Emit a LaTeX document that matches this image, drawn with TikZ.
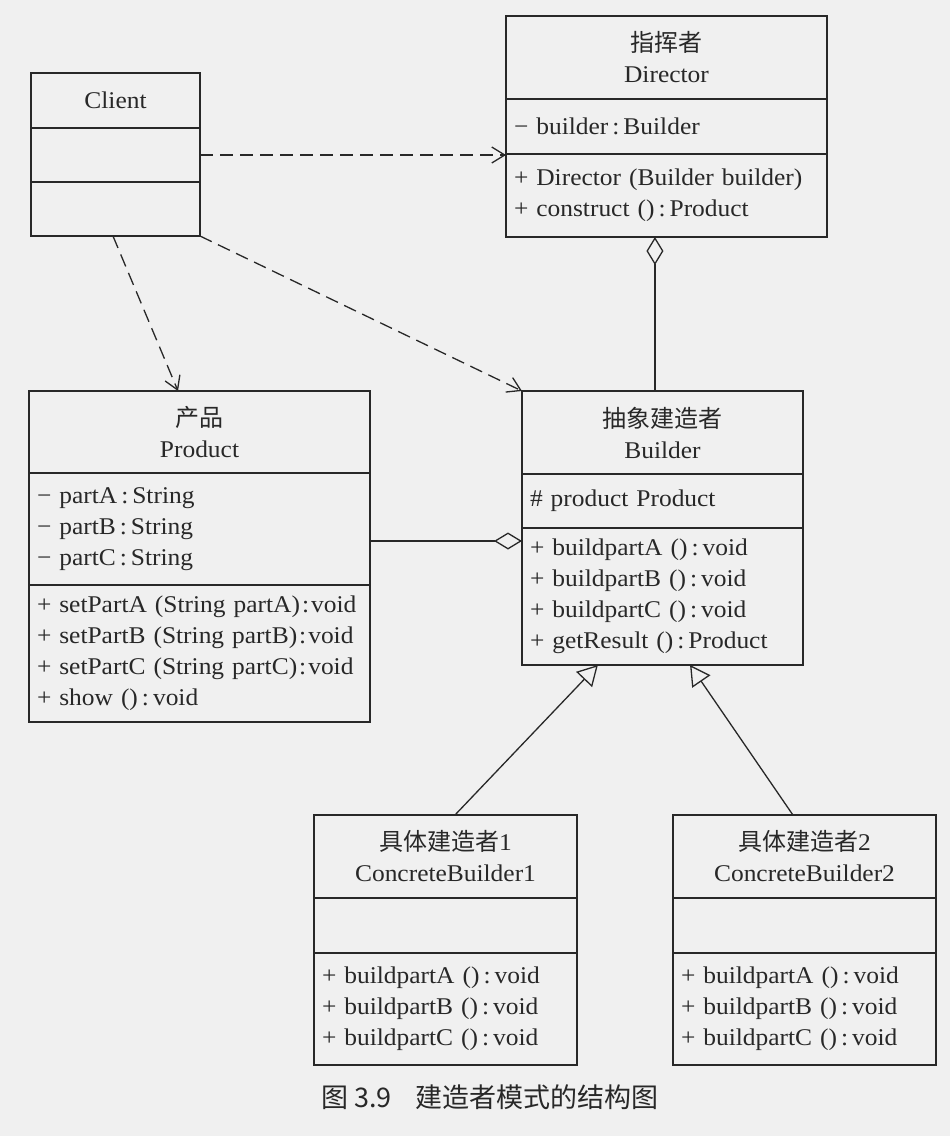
\documentclass[tikz,border=0pt]{standalone}
\usepackage{fontspec}
\setmainfont{Liberation Serif}[FakeStretch=1.06]
\newfontfamily\cjk{Noto Sans CJK SC}
\usetikzlibrary{positioning,calc,arrows.meta}

\definecolor{inkc}{RGB}{40,40,40}
\definecolor{paperc}{RGB}{240,240,240}

\tikzset{
  clsbox/.style={draw=inkc, line width=1.8pt, inner xsep=8pt, inner ysep=0pt, outer sep=0pt, text width=#1},
  clstitle/.style={clsbox=#1, align=center},
  clspart/.style={clsbox=#1, align=left},
  depline/.style={draw=inkc, line width=1.3pt, dash pattern=on 13pt off 7pt, -{Straight Barb[length=13pt,width=16pt]}},
  aggline/.style={draw=inkc, line width=1.3pt, {Diamond[open,length=28pt,width=17pt]}-},
  genline/.style={draw=inkc, line width=1.3pt, -{Triangle[open,length=20pt,width=22pt]}},
}

\begin{document}
\begin{tikzpicture}[x=1pt, y=-1pt, every node/.style={text=inkc, font=\fontsize{24}{31}\selectfont}]
  \fill[paperc] (0,0) rectangle (950,1136);
  \useasboundingbox (0,0) rectangle (950,1136);

  % Client
  \node[clstitle=153, minimum height=55pt, anchor=north west] (cli-t) at (31,73) {Client};
  \node[clspart=153, minimum height=54pt, below=0pt of cli-t] (cli-a) {};
  \node[clspart=153, minimum height=54pt, below=0pt of cli-a] (cli-o) {};

  % Director
  \node[clstitle=305, minimum height=83pt, anchor=north west] (dir-t) at (506,16) {{\cjk 指挥者}\\Director};
  \node[clspart=305, minimum height=55pt, below=0pt of dir-t] (dir-a) {− builder\,:\,Builder};
  \node[clspart=305, minimum height=83pt, below=0pt of dir-a] (dir-o) {+ Director (Builder builder)\\+ construct ()\,:\,Product};

  % Product
  \node[clstitle=325, minimum height=82pt, anchor=north west] (prd-t) at (29,391) {{\cjk 产品}\\Product};
  \node[clspart=325, minimum height=112pt, below=0pt of prd-t] (prd-a) {− partA\,:\,String\\− partB\,:\,String\\− partC\,:\,String};
  \node[clspart=325, minimum height=137pt, below=0pt of prd-a] (prd-o) {+ setPartA (String partA)\hspace{2pt}:\hspace{2pt}void\\+ setPartB (String partB)\hspace{2pt}:\hspace{2pt}void\\+ setPartC (String partC)\hspace{2pt}:\hspace{2pt}void\\+ show ()\,:\,void};

  % Builder
  \node[clstitle=265, minimum height=83pt, anchor=north west] (bld-t) at (522,391) {{\cjk 抽象建造者}\\Builder};
  \node[clspart=265, minimum height=54pt, below=0pt of bld-t] (bld-a) {\# product Product};
  \node[clspart=265, minimum height=137pt, below=0pt of bld-a] (bld-o) {+ buildpartA ()\,:\,void\\+ buildpartB ()\,:\,void\\+ buildpartC ()\,:\,void\\+ getResult ()\,:\,Product};

  % concrete builders
  \foreach \n/\x in {1/314, 2/673} {
    \node[clstitle=247, minimum height=83pt, anchor=north west] (cb\n-t) at (\x,815) {{\cjk 具体建造者}\n\\ConcreteBuilder\n};
    \node[clspart=247, minimum height=55pt, below=0pt of cb\n-t] (cb\n-a) {};
    \node[clspart=247, minimum height=112pt, below=0pt of cb\n-a] (cb\n-o) {+ buildpartA ()\,:\,void\\+ buildpartB ()\,:\,void\\+ buildpartC ()\,:\,void};
  }

  % dependencies
  \draw[depline] (cli-a.east) -- (cli-a.east -| dir-a.west);
  \draw[depline] ($(cli-o.south west)!0.485!(cli-o.south east)$) -- ($(prd-t.north west)!0.437!(prd-t.north east)$);
  \draw[depline] (cli-o.south east) -- (bld-t.north west);

  % aggregations
  \coordinate (agg1) at ($(dir-o.south west)!0.464!(dir-o.south east)$);
  \draw[aggline] (agg1) -- (agg1 |- bld-t.north);
  \coordinate (agg2) at ($(bld-o.north west)+(0,13)$);
  \draw[aggline] (agg2) -- (agg2 -| prd-a.east);

  % generalisations
  \draw[genline] ($(cb1-t.north west)!0.536!(cb1-t.north east)$) -- ($(bld-o.south west)!0.27!(bld-o.south east)$);
  \draw[genline] ($(cb2-t.north west)!0.456!(cb2-t.north east)$) -- ($(bld-o.south west)!0.598!(bld-o.south east)$);

  \node[font={\fontsize{27}{30}\selectfont\cjk}] (cap) at (490,1097) {图 3.9\hspace{0.9em}建造者模式的结构图};
\end{tikzpicture}
\end{document}
